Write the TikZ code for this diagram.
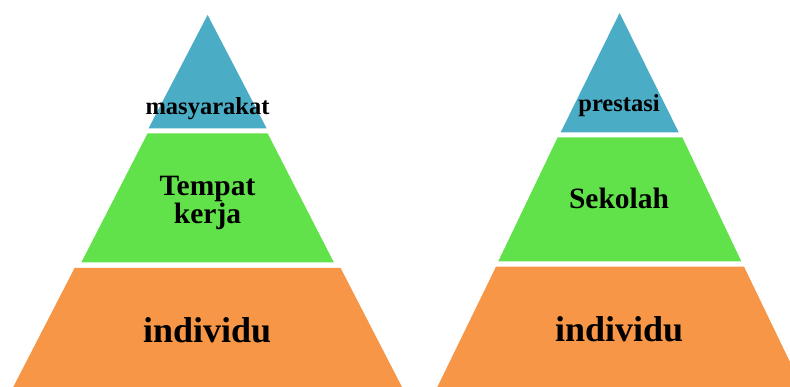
\documentclass[tikz,border=0pt]{standalone}
\usepackage{fontspec}
\setmainfont{Liberation Serif}
\definecolor{pyrblue}{HTML}{4BACC6}
\definecolor{pyrgreen}{HTML}{62E24A}
\definecolor{pyrorange}{HTML}{F79646}
\tikzset{
  toptext/.style={font=\bfseries\fontsize{24.5}{26}\selectfont, anchor=base, inner sep=0pt},
  midtext/.style={font=\bfseries\fontsize{29.5}{30}\selectfont, anchor=base, inner sep=0pt},
  bottext/.style={font=\bfseries\fontsize{36}{38}\selectfont, anchor=base, inner sep=0pt}
}
\begin{document}
\begin{tikzpicture}[x=1pt,y=-1pt]
\clip (0,0) rectangle (790,387);
\fill[white] (0,0) rectangle (790,387);
%
% left pyramid
\fill[pyrblue] (207.6,15) -- (266.6,128.3) -- (148.6,128.3) -- cycle;
\fill[pyrgreen] (147.6,133.3) -- (267.6,133.3) -- (333.8,262.3) -- (81.4,262.3) -- cycle;
\fill[pyrorange] (74.6,268) -- (340.6,268) -- (403.5,390) -- (11.7,390) -- cycle;
%
\node[toptext] (masyarakat) at (207.5,115) {masyarakat};
\node[midtext] (tempat) at (207.5,196) {Tempat};
\node[midtext] (kerja) at (207.5,224) {kerja};
\node[bottext] (individuL) at (207.2,342) {individu};
%
% right pyramid
\fill[pyrblue] (619.6,13) -- (678.7,132.3) -- (560.7,132.3) -- cycle;
\fill[pyrgreen] (557.7,137.3) -- (682.3,137.3) -- (741.3,261.3) -- (498.3,261.3) -- cycle;
\fill[pyrorange] (496,266.7) -- (744,266.7) -- (803.5,390) -- (435.9,390) -- cycle;
%
\node[toptext] (prestasi) at (619,111.5) {prestasi};
\node[midtext] (sekolah) at (619,208.5) {Sekolah};
\node[bottext] (individuR) at (619.2,341.7) {individu};
\end{tikzpicture}
\end{document}
